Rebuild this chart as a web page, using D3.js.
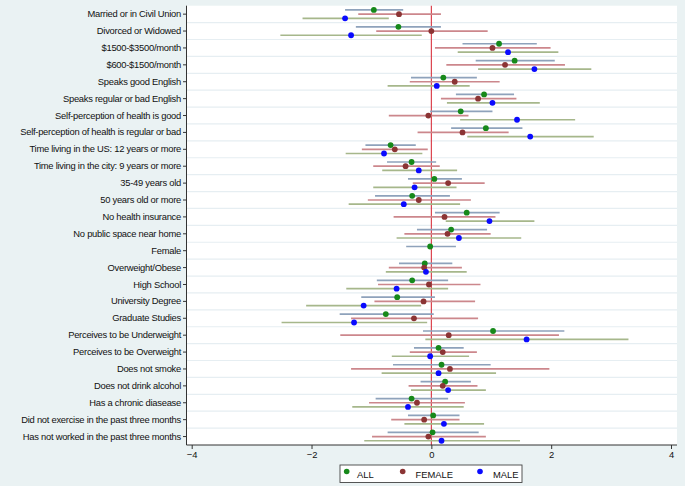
<!DOCTYPE html>
<html>
<head>
<meta charset="utf-8">
<script src="https://cdn.jsdelivr.net/npm/d3@7"></script>
<style>
  html, body { margin: 0; padding: 0; background: #eaf2f3; }
  svg { display: block; }
  text { font-family: "Liberation Sans", Arial, Helvetica, sans-serif; fill: #111; }
</style>
</head>
<body>
<svg id="chart" width="685" height="486"></svg>
<script>
const categories = [
  "Married or in Civil Union",
  "Divorced or Widowed",
  "$1500-$3500/month",
  "$600-$1500/month",
  "Speaks good English",
  "Speaks regular or bad English",
  "Self-perception of health is good",
  "Self-perception of health is regular or bad",
  "Time living in the US: 12 years or more",
  "Time living in the city: 9 years or more",
  "35-49 years old",
  "50 years old or more",
  "No health insurance",
  "No public space near home",
  "Female",
  "Overweight/Obese",
  "High School",
  "University Degree",
  "Graduate Studies",
  "Perceives to be Underweight",
  "Perceives to be Overweight",
  "Does not smoke",
  "Does not drink alcohol",
  "Has a chronic diasease",
  "Did not exercise in the past three months",
  "Has not worked in the past three months"
];

const allEst = [-0.96,-0.55,1.13,1.39,0.20,0.88,0.49,0.91,-0.68,-0.33,0.05,-0.32,0.59,0.33,-0.02,-0.11,-0.32,-0.57,-0.76,1.03,0.12,0.17,0.23,-0.33,0.03,0.02];
const allLo  = [-1.44,-1.26,0.52,0.74,-0.34,0.41,-0.02,0.33,-1.10,-0.74,-0.39,-0.94,0.06,-0.24,-0.42,-0.54,-0.91,-1.17,-1.53,-0.14,-0.29,-0.64,-0.18,-0.93,-0.39,-0.73];
const allHi  = [-0.47,0.16,1.76,2.06,0.76,1.38,1.02,1.52,-0.26,0.08,0.51,0.31,1.14,0.93,0.41,0.35,0.28,0.06,0.04,2.22,0.54,0.99,0.66,0.28,0.47,0.79];

const femaleEst = [-0.54,0.00,1.02,1.23,0.39,0.78,-0.05,0.52,-0.61,-0.43,0.28,-0.21,0.22,0.27,null,-0.12,-0.04,-0.13,-0.29,0.29,0.19,0.31,0.19,-0.24,-0.12,-0.05];
const femaleLo  = [-1.22,-0.92,0.06,0.25,-0.36,0.16,-0.71,-0.23,-1.16,-0.97,-0.31,-1.06,-0.63,-0.45,null,-0.71,-0.89,-0.95,-1.34,-1.52,-0.36,-1.34,-0.38,-1.04,-0.67,-0.99];
const femaleHi  = [0.16,0.94,1.99,2.23,1.14,1.42,0.62,1.29,-0.06,0.14,0.89,0.66,1.07,0.99,null,0.51,0.82,0.73,0.78,2.13,0.76,1.97,0.77,0.56,0.47,0.91];

const maleEst = [-1.44,-1.34,1.28,1.72,0.09,1.02,1.43,1.65,-0.79,-0.21,-0.28,-0.46,0.97,0.46,null,-0.09,-0.58,-1.13,-1.29,1.59,-0.02,0.12,0.28,-0.39,0.21,0.17];
const maleLo  = [-2.15,-2.52,0.44,0.78,-0.73,0.26,0.48,0.60,-1.43,-0.82,-0.97,-1.38,0.24,-0.58,null,-0.76,-1.42,-2.09,-2.50,-0.10,-0.66,-0.83,-0.34,-1.32,-0.45,-1.12];
const maleHi  = [-0.71,-0.16,2.12,2.67,0.64,1.81,2.40,2.71,-0.15,0.43,0.42,0.48,1.72,1.50,null,0.59,0.28,-0.17,-0.07,3.29,0.63,1.08,0.91,0.54,0.88,1.48];

const xTicks = [-4, -2, 0, 2, 4];
const seriesNames = ["ALL", "FEMALE", "MALE"];

const svg = d3.select("#chart");
const W = 685, H = 486;
const plotLeft = 186.5, plotRight = 677, plotTop = 5.7, plotBottom = 445;

svg.append("rect").attr("x", 0).attr("y", 0).attr("width", W).attr("height", H).attr("fill", "#eaf2f3");
svg.append("rect").attr("x", plotLeft).attr("y", plotTop)
  .attr("width", plotRight - plotLeft).attr("height", plotBottom - plotTop).attr("fill", "#ffffff");

const x = d3.scaleLinear().domain([-4, 4]).range([191.7, 671]);
const y = d3.scaleBand().domain(categories).range([plotTop, plotBottom]);

// row separators
const sepG = svg.append("g");
categories.slice(1).forEach(c => {
  sepG.append("line")
    .attr("x1", plotLeft).attr("x2", plotRight)
    .attr("y1", y(c)).attr("y2", y(c))
    .attr("stroke", "#e6eef2").attr("stroke-width", 1.2);
});

// zero line
svg.append("line")
  .attr("x1", x(0)).attr("x2", x(0))
  .attr("y1", plotTop).attr("y2", plotBottom)
  .attr("stroke", "#d9343f").attr("stroke-width", 1.1);

const series = [
  { name: "ALL", est: allEst, lo: allLo, hi: allHi, bar: "#8ea2bb", dot: "#16891a", off: -4.2 },
  { name: "FEMALE", est: femaleEst, lo: femaleLo, hi: femaleHi, bar: "#cc878c", dot: "#8b3434", off: 0 },
  { name: "MALE", est: maleEst, lo: maleLo, hi: maleHi, bar: "#a6b78b", dot: "#0a0aff", off: 4.2 }
];

series.forEach(s => {
  const rows = categories.map((c, i) => ({ c, est: s.est[i], lo: s.lo[i], hi: s.hi[i] }))
    .filter(d => d.est !== null);
  const g = svg.append("g");
  g.selectAll("line").data(rows).join("line")
    .attr("x1", d => x(d.lo)).attr("x2", d => x(d.hi))
    .attr("y1", d => y(d.c) + y.bandwidth() / 2 + s.off)
    .attr("y2", d => y(d.c) + y.bandwidth() / 2 + s.off)
    .attr("stroke", s.bar).attr("stroke-width", 1.7);
});
series.forEach(s => {
  const rows = categories.map((c, i) => ({ c, est: s.est[i] })).filter(d => d.est !== null);
  svg.append("g").selectAll("circle").data(rows).join("circle")
    .attr("cx", d => x(d.est))
    .attr("cy", d => y(d.c) + y.bandwidth() / 2 + s.off)
    .attr("r", 2.9).attr("fill", s.dot);
});

// y axis
const yAxis = d3.axisLeft(y).tickSize(3.5).tickPadding(2);
const yg = svg.append("g").attr("transform", `translate(${plotLeft},0)`).call(yAxis);
yg.select(".domain").attr("stroke", "#333").attr("d", `M0,${plotTop}V${plotBottom}`);
yg.selectAll(".tick line").attr("stroke", "#333");
yg.selectAll(".tick text").attr("font-size", "9.4px").attr("fill", "#111")
  .attr("letter-spacing", "-0.26px")
  .attr("font-family", "'Liberation Sans', Arial, sans-serif");

// x axis
const xAxis = d3.axisBottom(x).tickValues(xTicks).tickFormat(d3.format("d")).tickSize(4).tickPadding(2);
const xg = svg.append("g").attr("transform", `translate(0,${plotBottom})`).call(xAxis);
xg.select(".domain").attr("stroke", "#333").attr("d", `M${plotLeft},0H${plotRight}`);
xg.selectAll(".tick line").attr("stroke", "#333");
xg.selectAll(".tick text").attr("font-size", "9.4px").attr("fill", "#111")
  .attr("font-family", "'Liberation Sans', Arial, sans-serif");

// legend
const lg = svg.append("g");
lg.append("rect").attr("x", 340).attr("y", 465).attr("width", 182).attr("height", 17.5)
  .attr("fill", "#ffffff").attr("stroke", "#444").attr("stroke-width", 0.9);
const legendPos = [ [346.7, 357], [402.7, 415.5], [480, 493] ];
series.forEach((s, i) => {
  lg.append("circle").attr("cx", legendPos[i][0]).attr("cy", 471.5).attr("r", 2.8).attr("fill", s.dot);
  lg.append("text").attr("x", legendPos[i][1]).attr("y", 477.5)
    .attr("font-size", "9.4px").text(seriesNames[i]);
});
</script>
</body>
</html>
